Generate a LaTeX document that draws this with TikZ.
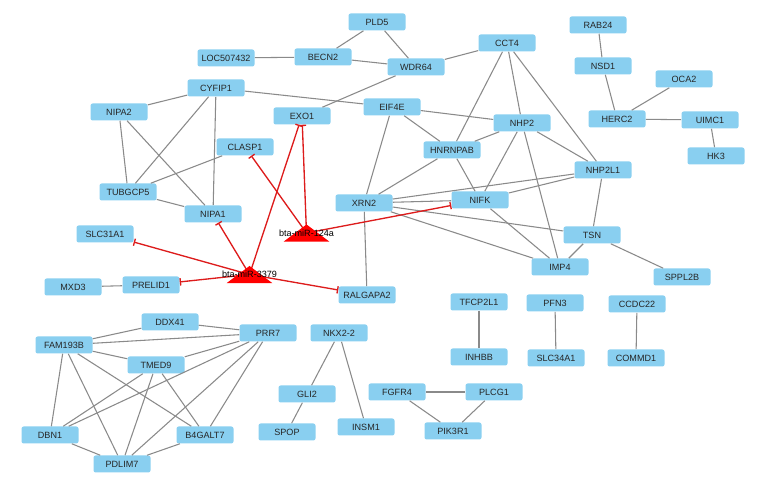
\documentclass[tikz,border=0pt]{standalone}
\usepackage{fontspec}
\setmainfont{Liberation Sans}
\usetikzlibrary{arrows.meta}
\definecolor{genefill}{HTML}{89CFF0}
\definecolor{genetext}{HTML}{262626}
\definecolor{ppiline}{HTML}{8A8A8A}
\definecolor{mirred}{HTML}{FF0000}
\definecolor{inhibline}{HTML}{DD1C1C}
\tikzset{
  gene/.style={rectangle, rounded corners=1.6pt, fill=genefill, text=genetext, inner sep=0pt, minimum width=42.75pt, minimum height=12.75pt, font=\fontsize{6.8}{8}\selectfont},
  mirna/.style={rectangle, inner sep=0pt, minimum width=33.75pt, minimum height=12.4pt},
  mirlabel/.style={text=black, inner sep=0pt, font=\fontsize{6.8}{8}\selectfont},
  ppi/.style={draw=ppiline, line width=0.8pt},
  inhibit/.style={-{Bar[width=5.5pt]}, draw=inhibline, line width=1pt}
}

\begin{document}
\begin{tikzpicture}[x=0.75pt, y=-0.75pt]

\useasboundingbox (0,0) rectangle (769,488);

% upper network
\node[gene] (loc507432) at (226,58) {LOC507432};
\node[gene] (becn2) at (323,57) {BECN2};
\node[gene] (pld5) at (377,22) {PLD5};
\node[gene] (wdr64) at (416,67) {WDR64};
\node[gene] (cct4) at (507,43) {CCT4};
\node[gene] (cyfip1) at (216,88) {CYFIP1};
\node[gene] (nipa2) at (119,112) {NIPA2};
\node[gene] (exo1) at (302,116) {EXO1};
\node[gene] (eif4e) at (392,107) {EIF4E};
\node[gene] (nhp2) at (522,123) {NHP2};
\node[gene] (hnrnpab) at (452,150) {HNRNPAB};
\node[gene] (clasp1) at (245,147) {CLASP1};
\node[gene] (nhp2l1) at (603,170) {NHP2L1};
\node[gene] (tubgcp5) at (128,192) {TUBGCP5};
\node[gene] (nipa1) at (213,214) {NIPA1};
\node[gene] (xrn2) at (364,203) {XRN2};
\node[gene] (nifk) at (480,200) {NIFK};
\node[gene] (slc31a1) at (105,234) {SLC31A1};
\node[gene] (tsn) at (592,235) {TSN};
\node[gene] (imp4) at (560,267) {IMP4};
\node[gene] (sppl2b) at (682,277) {SPPL2B};
\node[gene] (mxd3) at (73,287) {MXD3};
\node[gene] (prelid1) at (151,285) {PRELID1};
\node[gene] (ralgapa2) at (367,295) {RALGAPA2};

% HERC2 group
\node[gene] (rab24) at (598,25) {RAB24};
\node[gene] (nsd1) at (603,66) {NSD1};
\node[gene] (oca2) at (684,79) {OCA2};
\node[gene] (herc2) at (617,119) {HERC2};
\node[gene] (uimc1) at (710,120) {UIMC1};
\node[gene] (hk3) at (716,156) {HK3};

% small pairs
\node[gene] (tfcp2l1) at (479,302) {TFCP2L1};
\node[gene] (inhbb) at (479,357) {INHBB};
\node[gene] (pfn3) at (555,303) {PFN3};
\node[gene] (slc34a1) at (556,358) {SLC34A1};
\node[gene] (ccdc22) at (637,304) {CCDC22};
\node[gene] (commd1) at (636,358) {COMMD1};
\node[gene] (nkx22) at (339,333) {NKX2-2};
\node[gene] (gli2) at (307,394) {GLI2};
\node[gene] (spop) at (287,432) {SPOP};
\node[gene] (insm1) at (366,427) {INSM1};
\node[gene] (fgfr4) at (397,392) {FGFR4};
\node[gene] (plcg1) at (494,392) {PLCG1};
\node[gene] (pik3r1) at (453,431) {PIK3R1};

% lower left cluster
\node[gene] (ddx41) at (170,322) {DDX41};
\node[gene] (fam193b) at (64,345) {FAM193B};
\node[gene] (tmed9) at (156,365) {TMED9};
\node[gene] (prr7) at (268,333) {PRR7};
\node[gene] (dbn1) at (50,435) {DBN1};
\node[gene] (b4galt7) at (205,435) {B4GALT7};
\node[gene] (pdlim7) at (122,464) {PDLIM7};

% miRNAs
\node[mirna] (mir124a) at (306.5,233) {};
\node[mirna] (mir3379) at (249.5,274.5) {};

\foreach \a/\b in {loc507432/becn2, becn2/pld5, becn2/wdr64, pld5/wdr64, wdr64/cct4, wdr64/exo1,
    cyfip1/eif4e, eif4e/nhp2, cyfip1/nipa2, cyfip1/tubgcp5, cyfip1/nipa1, nipa2/tubgcp5, nipa2/nipa1,
    clasp1/tubgcp5, tubgcp5/nipa1, eif4e/hnrnpab, eif4e/xrn2, hnrnpab/nhp2, hnrnpab/cct4,
    hnrnpab/xrn2, hnrnpab/nifk, cct4/nhp2, cct4/nhp2l1, nhp2/nhp2l1, nhp2/nifk, nhp2/imp4,
    nhp2l1/xrn2, nhp2l1/nifk, nhp2l1/tsn, xrn2/nifk, xrn2/tsn, xrn2/imp4, xrn2/ralgapa2,
    nifk/imp4, tsn/imp4, tsn/sppl2b, rab24/nsd1, nsd1/herc2, herc2/oca2, herc2/uimc1, uimc1/hk3,
    mxd3/prelid1, tfcp2l1/inhbb, pfn3/slc34a1, ccdc22/commd1, nkx22/gli2, nkx22/insm1, gli2/spop,
    fgfr4/plcg1, fgfr4/pik3r1, plcg1/pik3r1} {
  \draw[ppi] (\a) -- (\b);
}
\foreach \a/\b in {fam193b/ddx41, ddx41/prr7, fam193b/prr7, fam193b/tmed9, fam193b/dbn1,
    fam193b/pdlim7, fam193b/b4galt7, tmed9/prr7, tmed9/dbn1, tmed9/pdlim7, tmed9/b4galt7,
    prr7/dbn1, prr7/pdlim7, prr7/b4galt7, dbn1/pdlim7, pdlim7/b4galt7} {
  \draw[ppi] (\a) -- (\b);
}

\foreach \t in {nipa1, slc31a1, prelid1, ralgapa2, exo1} {
  \draw[inhibit] (mir3379.center) -- (\t);
}
\foreach \t in {exo1, clasp1, nifk} {
  \draw[inhibit] (mir124a.center) -- (\t);
}

\fill[mirred] (mir124a.south west) -- (mir124a.south east) -- (mir124a.north) -- cycle;
\fill[mirred] (mir3379.south west) -- (mir3379.south east) -- (mir3379.north) -- cycle;
\node[mirlabel] (lab124a) at (mir124a) {bta-miR-124a};
\node[mirlabel] (lab3379) at (mir3379) {bta-miR-3379};

\end{tikzpicture}
\end{document}
